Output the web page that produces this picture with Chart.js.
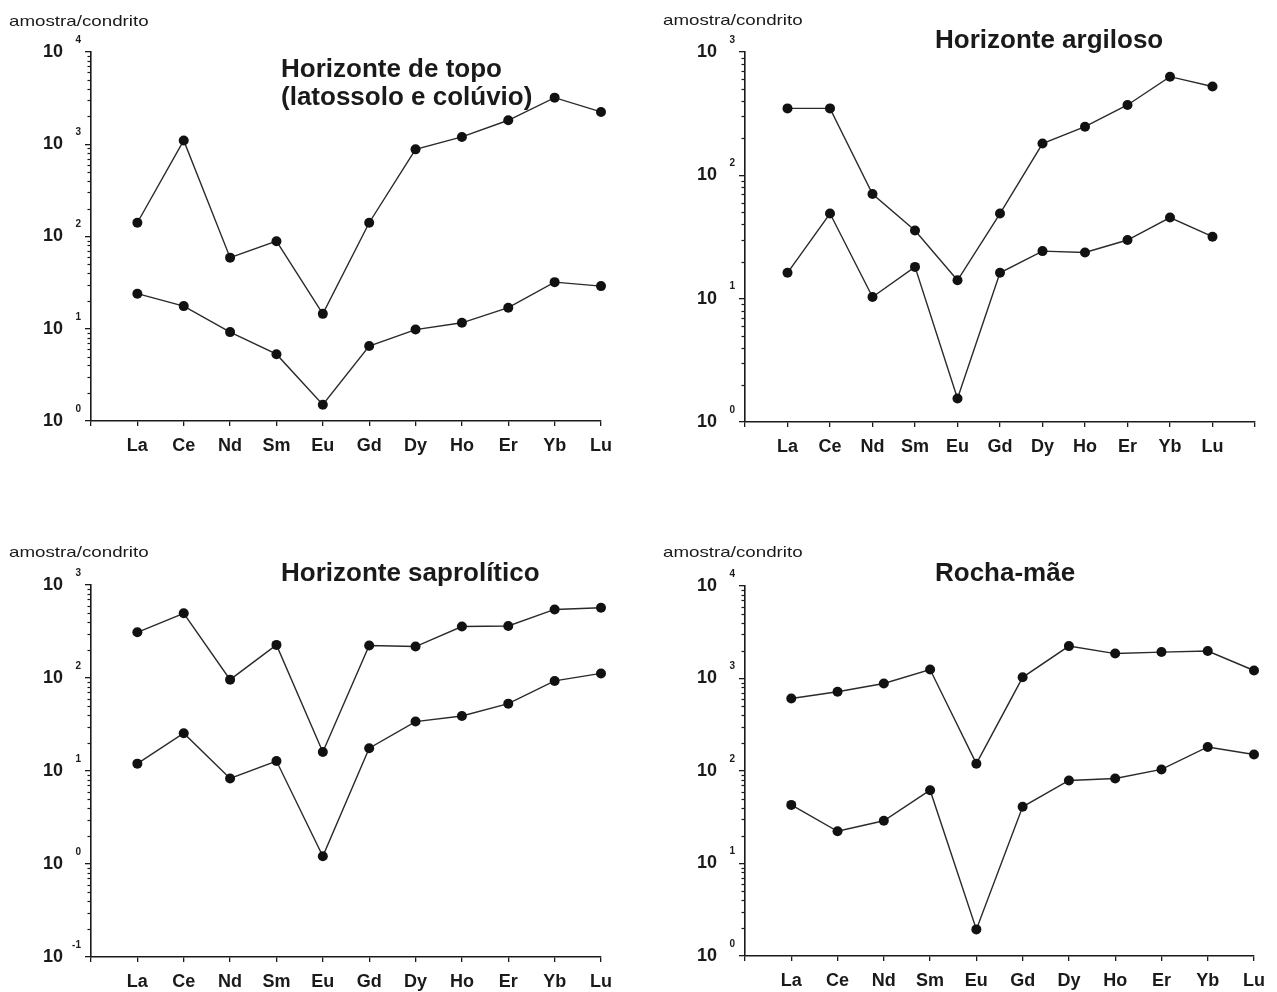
<!DOCTYPE html>
<html><head><meta charset="utf-8">
<script src="https://cdn.jsdelivr.net/npm/chart.js@4.4.1/dist/chart.umd.min.js"></script>
<style>
html,body{margin:0;padding:0;background:#fff;}
body{width:1277px;height:992px;position:relative;overflow:hidden;}
.pane{position:absolute;}
</style></head><body>
<div class="pane" style="left:0px;top:0px;width:640px;height:496px"><canvas id="c1"></canvas></div>
<div class="pane" style="left:640px;top:0px;width:637px;height:496px"><canvas id="c2"></canvas></div>
<div class="pane" style="left:0px;top:496px;width:640px;height:496px"><canvas id="c3"></canvas></div>
<div class="pane" style="left:640px;top:496px;width:637px;height:496px"><canvas id="c4"></canvas></div>
<script>
// ---- data ----
const elements = ['La','Ce','Nd','Sm','Eu','Gd','Dy','Ho','Er','Yb','Lu'];

const topoUpper  = [141, 1100, 59, 89, 14.5, 141, 880, 1200, 1820, 3200, 2240];
const topoLower  = [24, 17.6, 9.2, 5.3, 1.5, 6.5, 9.8, 11.6, 16.9, 32, 29];
const argUpper   = [349, 349, 70.5, 35.7, 14.1, 49, 181, 248, 372, 631, 525];
const argLower   = [16.2, 49, 10.3, 18.1, 1.55, 16.2, 24.3, 23.7, 29.9, 45.5, 31.8];
const sapUpper   = [310, 496, 96, 227, 16, 224, 218, 358, 363, 546, 569];
const sapLower   = [12, 25.5, 8.3, 12.8, 1.21, 17.6, 34, 39, 53, 93, 112];
const rochaUpper = [607, 718, 883, 1250, 120, 1030, 2240, 1860, 1930, 1980, 1220];
const rochaLower = [43, 22.3, 29, 62, 1.94, 41, 79, 83, 104, 182, 151];

const topoExps  = [0, 1, 2, 3, 4];
const argExps   = [0, 1, 2, 3];
const sapExps   = [-1, 0, 1, 2, 3];
const rochaExps = [0, 1, 2, 3, 4];

const yAxisLabel = 'amostra/condrito';
const topoTitle  = ['Horizonte de topo', '(latossolo e colúvio)'];
const argTitle   = ['Horizonte argiloso'];
const sapTitle   = ['Horizonte saprolítico'];
const rochaTitle = ['Rocha-mãe'];

// ---- layout ----
const FONT = '"Liberation Sans", Arial, Helvetica, sans-serif';
const INK = '#1a1a1a';

const panels = [
  {id:'c1', x0:0,   y0:0,   w:640, h:496, L:91,  T:52,  R:601,  B:421, xMax:11, exps:topoExps,  upper:topoUpper,  lower:topoLower,  title:topoTitle,  tx:281, ty:[77,105], lx:9,   ly:26},
  {id:'c2', x0:640, y0:0,   w:637, h:496, L:745, T:52,  R:1255, B:422, xMax:12, exps:argExps,   upper:argUpper,   lower:argLower,   title:argTitle,   tx:935, ty:[48],     lx:663, ly:25},
  {id:'c3', x0:0,   y0:496, w:640, h:496, L:91,  T:585, R:601,  B:957, xMax:11, exps:sapExps,   upper:sapUpper,   lower:sapLower,   title:sapTitle,   tx:281, ty:[581],    lx:9,   ly:557},
  {id:'c4', x0:640, y0:496, w:637, h:496, L:745, T:586, R:1254, B:956, xMax:11, exps:rochaExps, upper:rochaUpper, lower:rochaLower, title:rochaTitle, tx:935, ty:[581],    lx:663, ly:557}
];

function makeDecor(p){
  return {
    id:'decor_'+p.id,
    afterDraw(chart){
      const ctx = chart.ctx;
      const ys = chart.scales.y;
      const left = ys.right;
      ctx.save();
      // minor ticks
      ctx.strokeStyle = INK; ctx.lineWidth = 1.2;
      const exps = p.exps;
      for (let i = 0; i < exps.length - 1; i++) {
        for (let k = 2; k <= 9; k++) {
          const y = Math.round(ys.getPixelForValue(k * Math.pow(10, exps[i]))) + 0.5;
          ctx.beginPath(); ctx.moveTo(left - 3.5, y); ctx.lineTo(left, y); ctx.stroke();
        }
      }
      // exponents
      ctx.fillStyle = INK;
      ctx.font = 'bold 10px ' + FONT;
      ctx.textAlign = 'right'; ctx.textBaseline = 'middle';
      exps.forEach(e => {
        const y = ys.getPixelForValue(Math.pow(10, e));
        ctx.fillText(String(e), left - 10, y - 12);
      });
      // axis label
      ctx.font = '15px ' + FONT;
      ctx.textAlign = 'left'; ctx.textBaseline = 'alphabetic';
      ctx.save();
      ctx.translate(p.lx - p.x0, p.ly - p.y0);
      ctx.scale(1.25, 1);
      ctx.fillText(yAxisLabel, 0, 0);
      ctx.restore();
      // title
      ctx.font = 'bold 26px ' + FONT;
      p.title.forEach((t, i) => ctx.fillText(t, p.tx - p.x0, p.ty[i] - p.y0));
      ctx.restore();
    }
  };
}

panels.forEach(p => {
  const ds = (arr) => ({
    data: arr.map((v, i) => ({x: i + 1, y: v})),
    borderColor: '#2a2a2a', borderWidth: 1.4,
    pointRadius: 5, pointHoverRadius: 5,
    pointBackgroundColor: '#111', pointBorderColor: '#111', pointBorderWidth: 0,
    tension: 0, clip: false, fill: false
  });
  const xTicks = [];
  for (let v = 0; v <= p.xMax; v++) xTicks.push({value: v});
  new Chart(document.getElementById(p.id), {
    type: 'line',
    data: {datasets: [ds(p.upper), ds(p.lower)]},
    options: {
      responsive: true, maintainAspectRatio: false, animation: false,
      layout: {padding: {left: 0, top: p.T - p.y0, right: p.x0 + p.w - p.R, bottom: 0}},
      plugins: {legend: {display: false}, tooltip: {enabled: false}, title: {display: false}},
      scales: {
        x: {
          type: 'linear', min: 0, max: p.xMax,
          afterFit: s => { s.height = p.y0 + p.h - p.B; },
          afterBuildTicks: s => { s.ticks = xTicks.map(t => ({value: t.value})); },
          ticks: {
            autoSkip: false, maxRotation: 0, padding: 9,
            callback: v => (v >= 1 && v <= elements.length) ? elements[v - 1] : '',
            font: {family: FONT, size: 18, weight: 'bold'}, color: INK
          },
          grid: {drawOnChartArea: false, drawTicks: true, tickLength: 5, color: INK, lineWidth: 1.3},
          border: {display: true, color: INK, width: 1.6}
        },
        y: {
          type: 'logarithmic', min: Math.pow(10, p.exps[0]), max: Math.pow(10, p.exps[p.exps.length - 1]),
          afterFit: s => { s.width = p.L - p.x0; },
          afterBuildTicks: s => { s.ticks = p.exps.map(e => ({value: Math.pow(10, e)})); },
          ticks: {
            autoSkip: false, padding: 22,
            callback: () => '10',
            font: {family: FONT, size: 18, weight: 'bold'}, color: INK
          },
          grid: {drawOnChartArea: false, drawTicks: true, tickLength: 6, color: INK, lineWidth: 1.3},
          border: {display: true, color: INK, width: 1.6}
        }
      }
    },
    plugins: [makeDecor(p)]
  });
});
</script>
</body></html>
